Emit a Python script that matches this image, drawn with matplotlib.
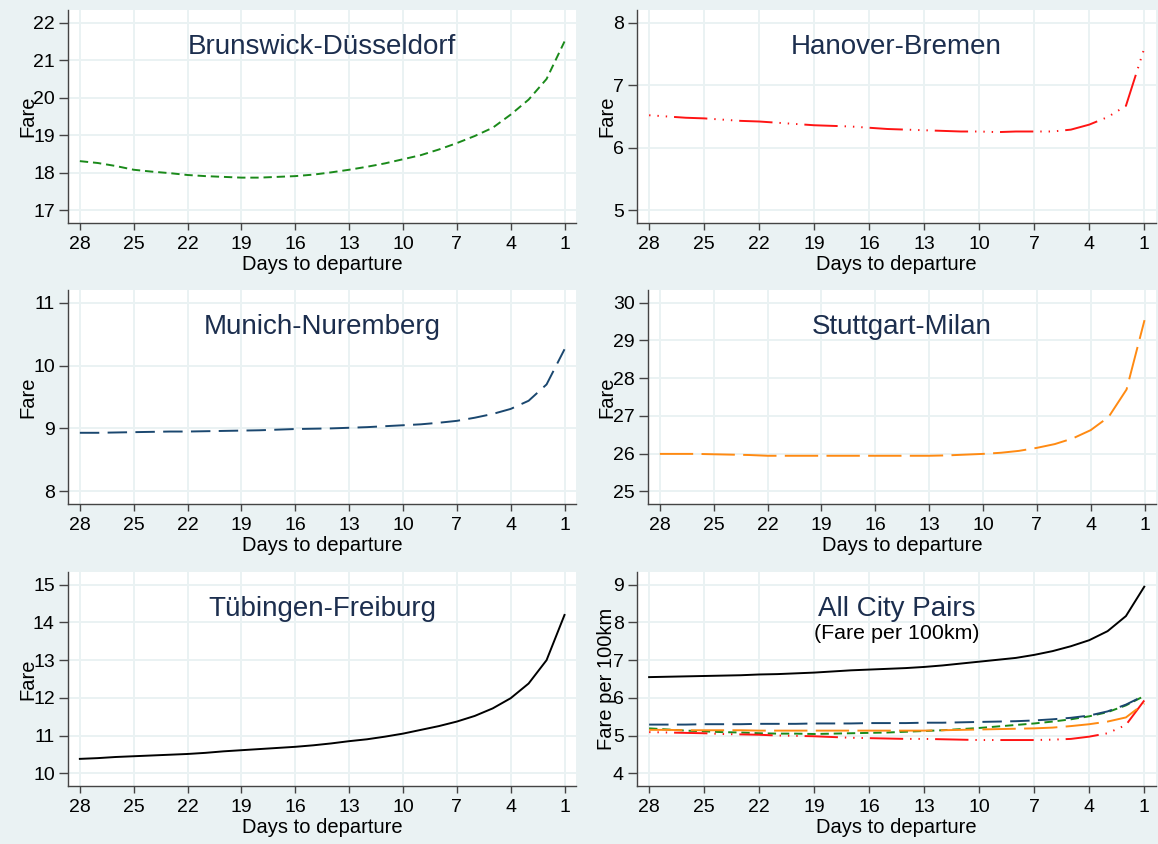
import matplotlib
matplotlib.use("Agg")
import matplotlib.pyplot as plt
import numpy as np

# === DATA (days 28 -> 1) ===
days = list(range(28, 0, -1))
xticks = [28, 25, 22, 19, 16, 13, 10, 7, 4, 1]

brunswick = [18.31, 18.26, 18.18, 18.08, 18.03, 17.99, 17.94, 17.91, 17.89, 17.87,
             17.87, 17.89, 17.91, 17.95, 18.01, 18.08, 18.16, 18.25, 18.36, 18.47,
             18.62, 18.79, 18.98, 19.20, 19.55, 19.95, 20.50, 21.50]
hanover = [6.52, 6.50, 6.48, 6.47, 6.45, 6.43, 6.42, 6.40, 6.38, 6.36,
           6.35, 6.34, 6.32, 6.30, 6.29, 6.28, 6.27, 6.26, 6.26, 6.25,
           6.26, 6.26, 6.26, 6.29, 6.37, 6.49, 6.67, 7.59]
munich = [8.93, 8.93, 8.935, 8.94, 8.945, 8.95, 8.95, 8.955, 8.96, 8.965,
          8.97, 8.98, 8.99, 8.995, 9.00, 9.01, 9.02, 9.035, 9.05, 9.065,
          9.09, 9.12, 9.17, 9.23, 9.31, 9.44, 9.70, 10.26]
stuttgart = [25.99, 25.99, 25.99, 25.98, 25.97, 25.96, 25.94, 25.94, 25.94, 25.94,
             25.94, 25.94, 25.94, 25.94, 25.94, 25.94, 25.95, 25.97, 25.99, 26.02,
             26.07, 26.15, 26.25, 26.40, 26.62, 26.97, 27.70, 29.54]
tubingen = [10.38, 10.40, 10.43, 10.45, 10.47, 10.49, 10.51, 10.54, 10.58, 10.61,
            10.64, 10.67, 10.70, 10.74, 10.79, 10.85, 10.90, 10.97, 11.05, 11.15,
            11.25, 11.37, 11.52, 11.72, 11.99, 12.38, 13.00, 14.20]

# all city pairs, fare per 100km
all_brunswick = [5.19, 5.16, 5.13, 5.11, 5.09, 5.08, 5.06, 5.05, 5.05, 5.04,
                 5.05, 5.06, 5.07, 5.08, 5.10, 5.12, 5.14, 5.17, 5.20, 5.24,
                 5.28, 5.32, 5.37, 5.43, 5.51, 5.62, 5.80, 6.05]
all_hanover = [5.09, 5.08, 5.07, 5.06, 5.04, 5.03, 5.02, 5.00, 4.99, 4.98,
               4.96, 4.94, 4.93, 4.92, 4.91, 4.91, 4.90, 4.89, 4.88, 4.88,
               4.88, 4.88, 4.89, 4.91, 4.97, 5.06, 5.28, 5.93]
all_munich = [5.29, 5.29, 5.29, 5.30, 5.30, 5.30, 5.31, 5.31, 5.31, 5.32,
              5.32, 5.32, 5.33, 5.33, 5.33, 5.34, 5.34, 5.35, 5.36, 5.37,
              5.38, 5.40, 5.43, 5.47, 5.53, 5.64, 5.82, 6.06]
all_stuttgart = [5.15, 5.15, 5.14, 5.14, 5.14, 5.14, 5.13, 5.13, 5.13, 5.13,
                 5.13, 5.13, 5.13, 5.13, 5.13, 5.13, 5.14, 5.15, 5.16, 5.17,
                 5.18, 5.19, 5.21, 5.25, 5.30, 5.37, 5.48, 5.85]
all_tubingen = [6.55, 6.56, 6.57, 6.58, 6.59, 6.60, 6.62, 6.63, 6.65, 6.67,
                6.70, 6.73, 6.75, 6.77, 6.79, 6.82, 6.86, 6.91, 6.96, 7.01,
                7.06, 7.14, 7.24, 7.37, 7.53, 7.77, 8.17, 8.95]

# === STYLE ===
plt.rcParams['font.family'] = ['Liberation Sans', 'DejaVu Sans']
plt.rcParams['lines.scale_dashes'] = False
BG = '#eaf2f3'
TITLE_C = '#1c2e4e'
GREEN, RED, NAVY, ORANGE, BLACK = '#1a8a1a', '#ff1414', '#1a476f', '#ff8a12', '#000000'
LS_GREEN = (0, (6, 3.5))
LS_RED = (29, (24, 5, 1, 5, 1, 5, 1, 5))
LS_NAVY = (0, (14, 6))
LS_ORANGE = (0, (24, 6))
LS_BLACK = '-'
LW = 1.4

W, H = 1158, 844
fig = plt.figure(figsize=(W / 100, H / 100), dpi=100, facecolor=BG)


def make_ax(l, t, r, b, yticks, ylabel, title, label_x):
    ax = fig.add_axes([l / W, 1 - b / H, (r - l) / W, (b - t) / H])
    ax.set_facecolor('white')
    lo, hi = yticks[0], yticks[-1]
    pad = 0.068 * (hi - lo)
    ax.set_ylim(lo - pad, hi + pad)
    ax.set_xlim(28.66, 0.36)
    ax.set_xticks(xticks)
    ax.set_yticks(yticks)
    ax.grid(True, color=BG, linewidth=1.4)
    ax.set_axisbelow(True)
    for s in ['top', 'right']:
        ax.spines[s].set_visible(False)
    for s in ['left', 'bottom']:
        ax.spines[s].set_color('#444444')
        ax.spines[s].set_linewidth(1.0)
    ax.tick_params(axis='x', direction='out', length=5, width=1, pad=4.5,
                   labelsize=14, color='#444444')
    ax.tick_params(axis='y', direction='out', length=6.5, width=1, pad=3,
                   labelsize=14, color='#444444')
    ax.set_xlabel('Days to departure', fontsize=14.5, labelpad=1.5)
    ax.set_ylabel(ylabel, fontsize=14.5)
    ax.yaxis.set_label_coords((label_x - l) / (r - l), 0.5)
    ax.text(0.5, 0.828, title, transform=ax.transAxes, ha='center', va='center',
            fontsize=20, color=TITLE_C)
    return ax


ax1 = make_ax(68, 10, 576, 223, [17, 18, 19, 20, 21, 22], 'Fare', 'Brunswick-Düsseldorf', 37)
ax1.plot(days, brunswick, color=GREEN, lw=LW, ls=LS_GREEN)

ax2 = make_ax(637, 10, 1156, 223, [5, 6, 7, 8], 'Fare', 'Hanover-Bremen', 616)
ax2.plot(days, hanover, color=RED, lw=LW, ls=LS_RED)

ax3 = make_ax(68, 290, 576, 504, [8, 9, 10, 11], 'Fare', 'Munich-Nuremberg', 37)
ax3.plot(days, munich, color=NAVY, lw=LW, ls=LS_NAVY)

ax4 = make_ax(648, 290, 1156, 504, [25, 26, 27, 28, 29, 30], 'Fare', 'Stuttgart-Milan', 616)
ax4.plot(days, stuttgart, color=ORANGE, lw=LW, ls=LS_ORANGE)

ax5 = make_ax(68, 572, 576, 786, [10, 11, 12, 13, 14, 15], 'Fare', 'Tübingen-Freiburg', 37)
ax5.plot(days, tubingen, color=BLACK, lw=LW, ls=LS_BLACK)

ax6 = make_ax(637, 572, 1156, 786, [4, 5, 6, 7, 8, 9], 'Fare per 100km', 'All City Pairs', 616)
ax6.text(0.5, 0.712, '(Fare per 100km)', transform=ax6.transAxes, ha='center',
         va='center', fontsize=15.4, color='black')
ax6.plot(days, all_brunswick, color=GREEN, lw=LW, ls=LS_GREEN)
ax6.plot(days, all_hanover, color=RED, lw=LW, ls=LS_RED)
ax6.plot(days, all_munich, color=NAVY, lw=LW, ls=LS_NAVY)
ax6.plot(days, all_stuttgart, color=ORANGE, lw=LW, ls=LS_ORANGE)
ax6.plot(days, all_tubingen, color=BLACK, lw=LW, ls=LS_BLACK)

fig.savefig('out.png', dpi=100, facecolor=BG)
